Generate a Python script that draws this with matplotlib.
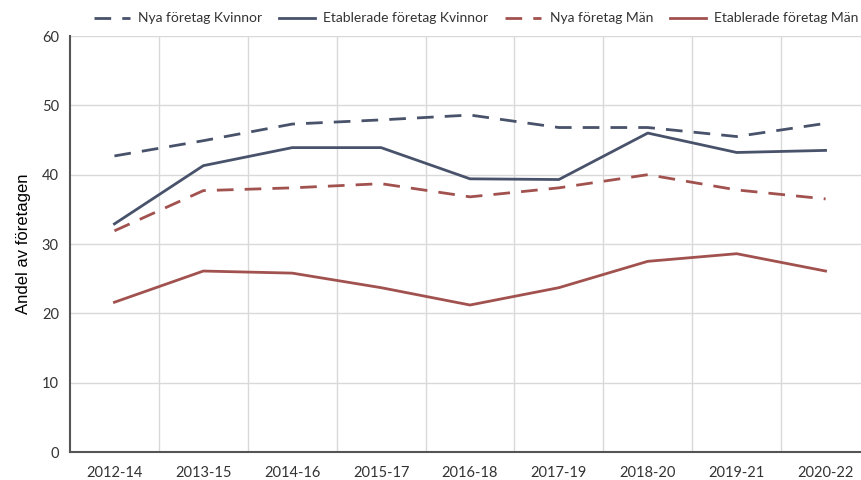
import matplotlib
matplotlib.use("Agg")
import matplotlib.pyplot as plt

plt.rcParams['font.family'] = ['Lato', 'DejaVu Sans']

perioder = ['2012-14', '2013-15', '2014-16', '2015-17', '2016-18',
            '2017-19', '2018-20', '2019-21', '2020-22']
nya_kvinnor = [42.7, 44.9, 47.3, 47.9, 48.6, 46.8, 46.8, 45.5, 47.4]
etab_kvinnor = [32.9, 41.3, 43.9, 43.9, 39.4, 39.3, 46.0, 43.2, 43.5]
nya_man = [31.9, 37.7, 38.1, 38.7, 36.8, 38.1, 40.0, 37.8, 36.5]
etab_man = [21.6, 26.1, 25.8, 23.7, 21.2, 23.7, 27.5, 28.6, 26.1]

morkbla = '#48526a'
rod = '#a1524f'
streck = (0, (6, 4))

fig = plt.figure(figsize=(8.61, 4.8), dpi=100)
# högerkanten går lite utanför bilden, som i originalet
ax = fig.add_axes([70/861, 28/480, 800/861, 416/480])

x = range(len(perioder))
ax.plot(x, nya_kvinnor, color=morkbla, lw=2, ls=streck, label='Nya företag Kvinnor')
ax.plot(x, etab_kvinnor, color=morkbla, lw=2, label='Etablerade företag Kvinnor')
ax.plot(x, nya_man, color=rod, lw=2, ls=streck, label='Nya företag Män')
ax.plot(x, etab_man, color=rod, lw=2, label='Etablerade företag Män')

ax.set_xlim(-0.5, len(perioder) - 0.5)
ax.set_ylim(0, 60)
ax.set_yticks(range(0, 61, 10))
ax.set_xticks(list(x))
ax.set_xticklabels(perioder)
# vertikala linjer mellan kategorierna
ax.set_xticks([i + 0.5 for i in range(len(perioder) - 1)], minor=True)
ax.grid(True, axis='y', color='#d9d9d9', lw=1)
ax.grid(True, axis='x', which='minor', color='#d9d9d9', lw=1)
ax.tick_params(axis='both', which='both', length=0, labelsize=10.5, colors='#333333')
ax.tick_params(axis='x', pad=10)
ax.tick_params(axis='y', pad=8)

for s in ['top', 'right']:
    ax.spines[s].set_visible(False)
for s in ['left', 'bottom']:
    ax.spines[s].set_color('#555555')
    ax.spines[s].set_linewidth(1.5)

ax.set_ylabel('Andel av företagen', fontsize=12, family=['Liberation Sans', 'DejaVu Sans'],
              labelpad=8)

fig.legend(loc='upper center', bbox_to_anchor=(476/861, 1.0), ncol=4, frameon=False,
           fontsize=10, handlelength=2.6, columnspacing=1.2, handletextpad=0.6,
           labelcolor='#333333')

fig.savefig('out.png', dpi=100)
